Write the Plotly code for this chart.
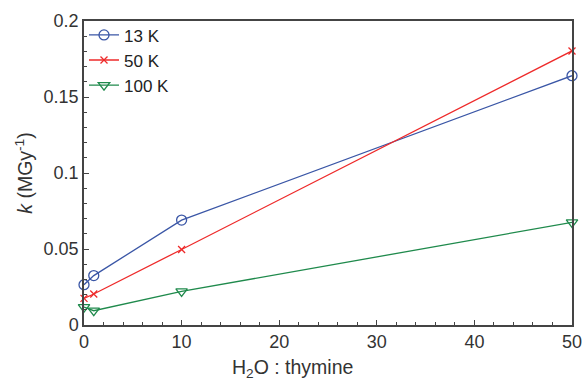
import plotly.graph_objects as go

x_ratio = [0, 1, 10, 50]
k_13K = [0.0265, 0.0325, 0.0690, 0.1640]
k_50K = [0.0175, 0.0204, 0.0497, 0.1803]
k_100K = [0.0118, 0.0094, 0.0221, 0.0675]

series_names = ["13 K", "50 K", "100 K"]
y_tickvals = [0, 0.05, 0.1, 0.15, 0.2]
y_ticktext = ["0", "0.05", "0.1", "0.15", "0.2"]
x_tickvals = [0, 10, 20, 30, 40, 50]
x_title = "H<sub>2</sub>O : thymine"
y_title = "<i>k</i> (MGy<sup>-1</sup>)"

colors = ["#3a56a6", "#ee2a2a", "#1f8a4c"]
symbols = ["circle-open", "x-thin-open", "triangle-down-open"]
sizes = [10, 7, 10]

fig = go.Figure()
for name, ys, c, s, sz in zip(series_names, [k_13K, k_50K, k_100K], colors, symbols, sizes):
    fig.add_trace(go.Scatter(
        x=x_ratio, y=ys, name=name, mode="lines+markers",
        line=dict(color=c, width=1.3),
        marker=dict(symbol=s, size=sz, color=c, line=dict(color=c, width=1.3)),
        cliponaxis=False,
    ))

axis_common = dict(
    showline=True, linecolor="#444", linewidth=1.5, mirror=True,
    ticks="inside", ticklen=5, tickwidth=1.3, tickcolor="#444",
    showgrid=False, zeroline=False, automargin=False,
    tickfont=dict(family="Liberation Sans, Arial", size=18, color="#333"),
)

fig.update_layout(
    width=587, height=383,
    margin=dict(l=84, r=15, t=21, b=58),
    paper_bgcolor="white", plot_bgcolor="white",
    font=dict(family="Liberation Sans, Arial", color="#333"),
    showlegend=True,
    legend=dict(x=0.0, y=1.012, xanchor="left", yanchor="top",
                bgcolor="rgba(0,0,0,0)", font=dict(size=17, color="#222"),
                tracegroupgap=0, itemwidth=30),
    xaxis=dict(range=[0, 50], tickvals=x_tickvals,
               minor=dict(dtick=2, ticks="inside", ticklen=3, tickcolor="#444"),
               **axis_common),
    yaxis=dict(range=[0, 0.2], tickvals=y_tickvals, ticktext=y_ticktext,
               minor=dict(dtick=0.01, ticks="inside", ticklen=3, tickcolor="#444"),
               title=dict(text=y_title, font=dict(size=19.5, color="#333"), standoff=6),
               **axis_common),
    annotations=[dict(text=x_title, xref="paper", yref="paper",
                      x=(292 - 84) / 488, y=0, xanchor="center", yanchor="top",
                      yshift=-29, showarrow=False,
                      font=dict(size=19.5, color="#333"))],
)

fig.write_html("out.html",
               config={"displayModeBar": False},
               post_script="document.body.style.margin='0';document.body.style.overflow='hidden';")
